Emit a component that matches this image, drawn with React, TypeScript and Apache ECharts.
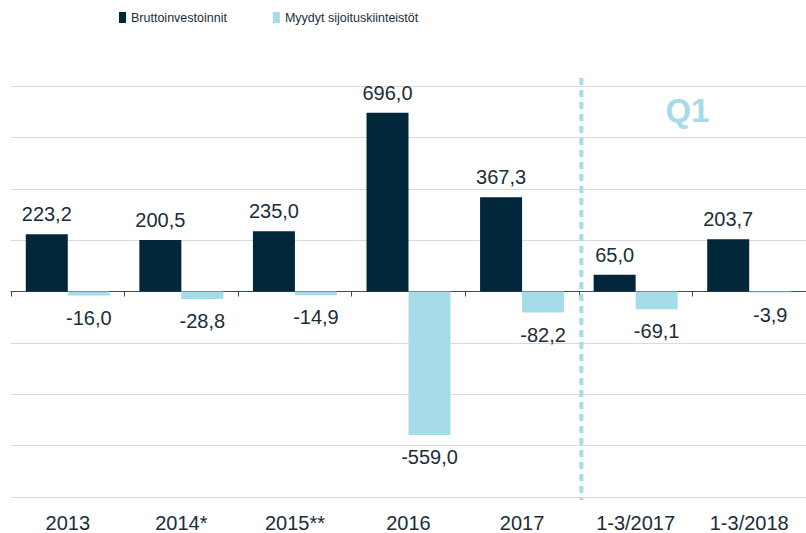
import React, { useEffect, useRef } from "react";
import * as echarts from "echarts";

const categories = ["2013", "2014*", "2015**", "2016", "2017", "1-3/2017", "1-3/2018"];
const grossInvestments = [223.2, 200.5, 235.0, 696.0, 367.3, 65.0, 203.7];
const soldProperties = [-16.0, -28.8, -14.9, -559.0, -82.2, -69.1, -3.9];
const seriesNames = ["Bruttoinvestoinnit", "Myydyt sijoituskiinteistöt"];
const yMin = -800;
const yMax = 800;
const yInterval = 200;
const quarterLabel = "Q1";

const DARK = "#02263A";
const LIGHT = "#A5DCE8";
const TEXT = "#1B2D3A";
const FONT = "'Liberation Sans', Arial, sans-serif";

const fmt = (v: number) => v.toFixed(1).replace(".", ",");

export default function App() {
  const ref = useRef<HTMLDivElement>(null);
  useEffect(() => {
    if (!ref.current) return;
    const chart = echarts.init(ref.current, undefined, { renderer: "svg" });
    chart.setOption({
      animation: false,
      textStyle: { fontFamily: FONT },
      legend: {
        left: 114,
        top: 6,
        itemWidth: 7,
        itemHeight: 11,
        itemGap: 46,
        icon: "rect",
        textStyle: { fontFamily: FONT, fontSize: 12.5, color: TEXT },
        data: seriesNames,
      },
      grid: { left: 11, right: 0, top: 86, bottom: 36 },
      xAxis: [
        {
          type: "category",
          data: categories,
          position: "bottom",
          axisLine: { show: false, onZero: false },
          axisTick: { show: false },
          axisLabel: { fontSize: 20, color: TEXT, margin: 16, fontFamily: FONT },
        },
        {
          type: "category",
          data: categories,
          position: "bottom",
          axisLine: { show: true, onZero: true, lineStyle: { color: "#3E4C57", width: 1 } },
          axisTick: { show: true, length: 5, lineStyle: { color: "#3E4C57" } },
          axisLabel: { show: false },
        },
      ],
      yAxis: {
        type: "value",
        min: yMin,
        max: yMax,
        interval: yInterval,
        axisLabel: { show: false },
        axisLine: { show: false },
        axisTick: { show: false },
        splitLine: { lineStyle: { color: "#D9D9D9", width: 1 } },
      },
      series: [
        {
          name: seriesNames[0],
          type: "bar",
          data: grossInvestments,
          barWidth: 42,
          barGap: "0%",
          itemStyle: { color: DARK },
          label: {
            show: true,
            position: "top",
            distance: 10,
            fontSize: 20,
            color: TEXT,
            fontFamily: FONT,
            formatter: (p: any) => fmt(p.value),
          },
        },
        {
          name: seriesNames[1],
          type: "bar",
          data: soldProperties,
          barWidth: 42,
          barGap: "0%",
          itemStyle: { color: LIGHT },
          label: {
            show: true,
            position: "bottom",
            distance: 12,
            fontSize: 20,
            color: TEXT,
            fontFamily: FONT,
            formatter: (p: any) => fmt(p.value),
          },
        },
      ],
    });
    const x4 = chart.convertToPixel({ xAxisIndex: 0 }, categories[4]) as number;
    const x5 = chart.convertToPixel({ xAxisIndex: 0 }, categories[5]) as number;
    const x6 = chart.convertToPixel({ xAxisIndex: 0 }, categories[6]) as number;
    const dashX = (x4 + x5) / 2 + 2.5;
    const qX = (x5 + x6) / 2 - 5;
    chart.setOption({
      graphic: [
        {
          type: "line",
          shape: { x1: dashX, y1: 78, x2: dashX, y2: 500 },
          style: { stroke: LIGHT, lineWidth: 4, lineDash: [7, 5] },
          z: 10,
        },
        {
          type: "text",
          x: qX,
          y: 110,
          style: {
            text: quarterLabel,
            fill: LIGHT,
            font: `bold 33px ${FONT}`,
            align: "center",
            verticalAlign: "middle",
          },
          z: 10,
        },
      ],
    });
    return () => chart.dispose();
  }, []);
  return <div ref={ref} style={{ width: 806, height: 533, position: "absolute", left: 0, top: 0 }} />;
}
